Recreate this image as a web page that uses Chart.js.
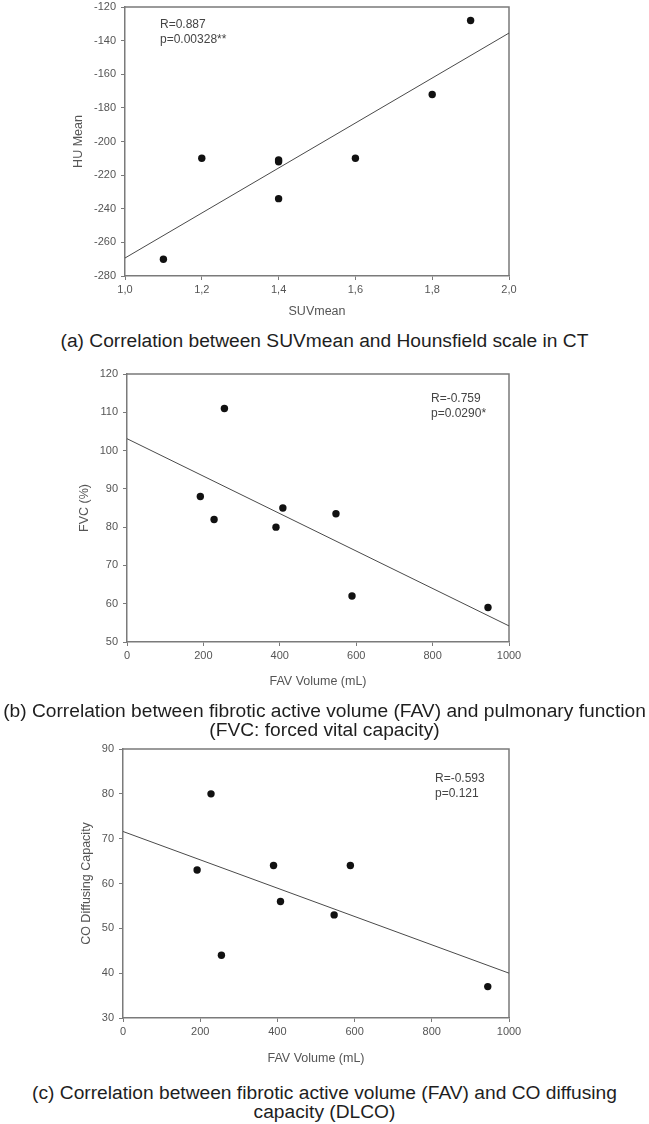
<!DOCTYPE html>
<html><head><meta charset="utf-8">
<script src="https://cdn.jsdelivr.net/npm/chart.js@4.4.1/dist/chart.umd.min.js"></script>
<style>
html,body{margin:0;padding:0;background:#fff;}
body{width:649px;height:1124px;position:relative;overflow:hidden;font-family:"Liberation Sans",Arial,sans-serif;}
canvas{position:absolute;left:0;}
.cap{position:absolute;left:0;width:649px;text-align:center;color:#1e1e1e;font-size:19.2px;line-height:19px;white-space:nowrap;}
</style></head><body>
<canvas id="ca" width="649" height="331" style="top:-6px"></canvas>
<canvas id="cb" width="649" height="330" style="top:362px"></canvas>
<canvas id="cc" width="649" height="333" style="top:737px"></canvas>
<div class="cap" style="top:331px">(a) Correlation between SUVmean and Hounsfield scale in CT</div>
<div class="cap" style="top:701px">(b) Correlation between fibrotic active volume (FAV) and pulmonary function<br>(FVC: forced vital capacity)</div>
<div class="cap" style="top:1083px">(c) Correlation between fibrotic active volume (FAV) and CO diffusing<br>capacity (DLCO)</div>
<script>
// ---- data (a) ----
const suvMean = [1.1, 1.2, 1.4, 1.4, 1.4, 1.6, 1.8, 1.9];
const huMean = [-270, -210, -211, -212, -234, -210, -172, -128];
const fitSuv = [1.0, 2.0];
const fitHu = [-269.3, -135.5];
const suvTickValues = [1.0, 1.2, 1.4, 1.6, 1.8, 2.0];
const suvTickLabels = ['1,0', '1,2', '1,4', '1,6', '1,8', '2,0'];
const huTickValues = [-280, -260, -240, -220, -200, -180, -160, -140, -120];
const huTickLabels = ['-280', '-260', '-240', '-220', '-200', '-180', '-160', '-140', '-120'];
const statsA = ['R=0.887', 'p=0.00328**'];

// ---- data (b) & (c) ----
const favVolume = [192, 228, 255, 390, 408, 547, 589, 945];
const fvcPct = [88, 82, 111, 80, 85, 83.5, 62, 59];
const fitFav = [0, 1000];
const fitFvc = [103.1, 54.2];
const dlco = [63, 80, 44, 64, 56, 53, 64, 37];
const fitDlco = [71.6, 40.0];
const favTickValues = [0, 200, 400, 600, 800, 1000];
const favTickLabels = ['0', '200', '400', '600', '800', '1000'];
const fvcTickValues = [50, 60, 70, 80, 90, 100, 110, 120];
const fvcTickLabels = ['50', '60', '70', '80', '90', '100', '110', '120'];
const dlcoTickValues = [30, 40, 50, 60, 70, 80, 90];
const dlcoTickLabels = ['30', '40', '50', '60', '70', '80', '90'];
const statsB = ['R=-0.759', 'p=0.0290*'];
const statsC = ['R=-0.593', 'p=0.121'];

const AXIS = '#7a7a7a';
const TICKTXT = '#555';
const FONT = '"Liberation Sans", Arial, sans-serif';

const frame = {
  id: 'frame',
  beforeDatasetsDraw(chart) {
    const {ctx, chartArea: a} = chart;
    ctx.save();
    ctx.strokeStyle = AXIS; ctx.lineWidth = 1.5;
    ctx.beginPath();
    ctx.moveTo(a.left, a.top); ctx.lineTo(a.right, a.top); ctx.lineTo(a.right, a.bottom);
    ctx.stroke();
    ctx.restore();
  }
};
const annot = {
  id: 'annot',
  afterDatasetsDraw(chart, args, opts) {
    const {ctx, chartArea: a} = chart;
    ctx.save();
    ctx.fillStyle = '#444';
    ctx.font = '12px ' + FONT;
    ctx.textAlign = 'left'; ctx.textBaseline = 'middle';
    opts.lines.forEach((t, i) => ctx.fillText(t, a.left + opts.dx, a.top + opts.dy + i * 15));
    ctx.restore();
  }
};

function makeChart(id, c) {
  return new Chart(document.getElementById(id), {
    type: 'scatter',
    data: {
      datasets: [
        { type: 'line', data: c.fitX.map((x, i) => ({x, y: c.fitY[i]})), borderColor: '#4a4a4a', borderWidth: 1, pointRadius: 0, fill: false, order: 2 },
        { data: c.xs.map((x, i) => ({x, y: c.ys[i]})), backgroundColor: '#111', borderColor: '#111', borderWidth: 0, pointRadius: 3.7, order: 1 }
      ]
    },
    options: {
      responsive: false, animation: false, events: [],
      layout: { padding: { left: 0, right: c.padRight, top: c.padTop, bottom: 0 } },
      plugins: { legend: { display: false }, tooltip: { enabled: false }, annot: { lines: c.stats, dx: c.statDx, dy: c.statDy } },
      scales: {
        x: {
          type: 'linear', min: c.xTicks[0], max: c.xTicks[c.xTicks.length - 1],
          afterBuildTicks: s => { s.ticks = c.xTicks.map(v => ({value: v})); },
          ticks: { callback: (v, i) => c.xLabels[i], color: TICKTXT, font: { family: FONT, size: 11 }, padding: 3, maxRotation: 0, autoSkip: false },
          grid: { drawOnChartArea: false, drawTicks: true, tickLength: 4, color: AXIS, lineWidth: 1 },
          border: { color: AXIS, width: 1.5 },
          title: { display: true, text: c.xTitle, color: TICKTXT, font: { family: FONT, size: 12.5 }, padding: { top: 0, bottom: c.xTitlePad } },
          afterFit: s => { s.height = c.xAxisH; }
        },
        y: {
          type: 'linear', min: c.yTicks[0], max: c.yTicks[c.yTicks.length - 1],
          afterBuildTicks: s => { s.ticks = c.yTicks.map(v => ({value: v})); },
          ticks: { callback: (v, i) => c.yLabels[i], color: TICKTXT, font: { family: FONT, size: 11 }, padding: 5, autoSkip: false },
          grid: { drawOnChartArea: false, drawTicks: true, tickLength: 4, color: AXIS, lineWidth: 1 },
          border: { color: AXIS, width: 1.5 },
          title: { display: true, text: c.yTitle, color: TICKTXT, font: { family: FONT, size: 12.5 }, padding: { top: c.yTitlePad, bottom: 0 } },
          afterFit: s => { s.width = c.yAxisW; }
        }
      }
    },
    plugins: [frame, annot]
  });
}

makeChart('ca', {
  xs: suvMean, ys: huMean, fitX: fitSuv, fitY: fitHu,
  xTicks: suvTickValues, xLabels: suvTickLabels, yTicks: huTickValues, yLabels: huTickLabels,
  xTitle: 'SUVmean', yTitle: 'HU Mean', stats: statsA,
  padRight: 140, padTop: 13, xAxisH: 49, yAxisW: 125, xTitlePad: 5.5, yTitlePad: 71.5, statDx: 35, statDy: 18
});
makeChart('cb', {
  xs: favVolume, ys: fvcPct, fitX: fitFav, fitY: fitFvc,
  xTicks: favTickValues, xLabels: favTickLabels, yTicks: fvcTickValues, yLabels: fvcTickLabels,
  xTitle: 'FAV Volume (mL)', yTitle: 'FVC (%)', stats: statsB,
  padRight: 140, padTop: 12, xAxisH: 50, yAxisW: 127, xTitlePad: 2.5, yTitlePad: 77.5, statDx: 304, statDy: 25
});
makeChart('cc', {
  xs: favVolume, ys: dlco, fitX: fitFav, fitY: fitDlco,
  xTicks: favTickValues, xLabels: favTickLabels, yTicks: dlcoTickValues, yLabels: dlcoTickLabels,
  xTitle: 'FAV Volume (mL)', yTitle: 'CO Diffusing Capacity', stats: statsC,
  padRight: 140, padTop: 12, xAxisH: 52, yAxisW: 123, xTitlePad: 3.5, yTitlePad: 79.5, statDx: 312, statDy: 30
});
</script>
</body></html>
